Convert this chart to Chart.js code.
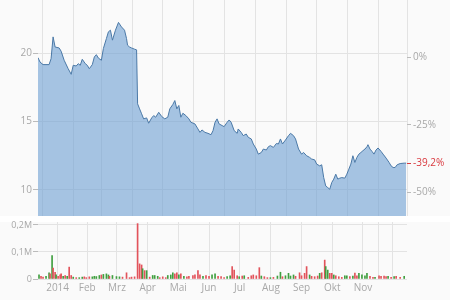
<!DOCTYPE html>
<html><head><meta charset="utf-8">
<script src="https://cdn.jsdelivr.net/npm/chart.js@4/dist/chart.umd.min.js"></script>
<style>
html,body{margin:0;padding:0;background:#fafafa;width:450px;height:300px;overflow:hidden}
#c1{position:absolute;left:0;top:0;width:450px;height:216px}
#c2{position:absolute;left:0;top:216px;width:450px;height:84px}
#sep{position:absolute;left:0;top:216px;width:450px;height:6px;background:#fff}
</style></head><body>
<div id="sep"></div>
<canvas id="c1" width="450" height="216"></canvas>
<canvas id="c2" width="450" height="84"></canvas>
<script>
// Day offsets from 2014-01-01 and closing prices
const priceDays = [-4,-2,1,7,9,11,13,17,19,22,26,29,31,34,36,38,40,43,45,47,50,52,54,56,59,61,64,66,68,70,73,76,79,82,84,85,87,89,92,94,95,97,99,101,104,106,109,111,113,116,119,122,125,127,130,132,134,136,138,140,143,146,148,152,155,157,159,162,165,168,170,172,174,176,179,181,184,186,188,191,194,195,198,200,203,205,208,210,213,215,218,220,223,225,227,230,233,235,237,239,242,245,247,250,252,255,258,260,263,266,268,271,273,276,278,280,282,284,286,288,290,292,294,296,298,301,303,305,307,309,311,313,315,317,319,321,323,324,326,328,330,332,334,337,339,342,345,347,349,351,353,356,360,362];
const prices = [19.68,19.36,19.17,19.17,19.6,21.2,20.46,20.39,20.15,19.49,18.87,18.46,19.12,19.07,19.24,19.12,19.56,19.24,19.12,18.87,19.17,19.73,19.9,19.65,19.49,20.35,21.08,21.57,21.69,20.96,21.69,22.26,21.93,21.69,21.08,20.59,20.46,20.39,20.3,20.25,16.3,15.93,15.57,15.2,15.27,14.88,15.27,15.44,15.32,15.68,15.37,15.2,15.32,15.93,16.25,16.54,15.93,16.18,15.32,15.61,15.44,15.2,14.95,14.83,14.46,14.21,14.39,14.21,14.14,14.04,14.34,14.95,15.2,14.83,14.71,14.63,14.95,15.12,14.95,14.34,14.14,14.46,14.21,13.97,14.09,13.85,13.73,13.36,12.99,12.62,12.74,12.99,12.92,13.16,13.24,13.11,13.4,13.36,13.73,13.36,13.65,13.97,14.14,13.97,13.73,12.99,12.62,12.74,12.5,12.38,12.26,12.2,11.89,11.76,11.84,10.9,10.29,10.17,10.05,10.54,10.79,11.15,10.79,10.86,10.9,10.86,11.15,11.52,11.89,12.5,12.01,12.38,12.62,12.74,12.87,12.99,13.16,13.31,12.99,12.82,12.62,12.92,13.07,12.82,12.62,12.33,12.01,11.76,11.64,11.64,11.84,11.93,11.96,11.96];

// Volume (thousands), day offsets and direction (u = up, d = down)
const volDays = [-3,-1,1,4,7,8,10,11,13,14,16,18,19,21,23,25,27,29,31,34,37,40,42,44,47,50,52,54,57,59,61,64,66,67,70,74,77,80,84,87,89,92,95,97,99,100,102,104,107,110,112,115,117,120,123,125,128,130,132,134,136,138,141,144,146,150,152,155,157,160,163,166,169,172,175,178,181,184,187,189,191,194,196,199,201,205,208,210,213,216,218,221,224,227,230,234,237,239,242,245,247,250,252,256,258,261,263,266,268,271,274,276,278,281,282,284,286,288,290,292,295,298,301,303,306,309,311,313,315,318,321,323,326,329,331,335,337,340,342,344,347,350,352,356,360];
const volumes = [15,10,7,10,23,19,87,40,25,15,10,15,19,10,13,10,44,13,7,5,5,7,8,5,8,8,10,9,13,15,17,19,15,10,13,9,8,7,23,5,7,8,205,56,52,38,31,31,7,13,13,10,5,8,5,13,15,23,19,23,15,19,10,8,10,13,15,31,15,10,13,10,15,19,10,9,5,8.5,12,46,33,12,8.5,11,12,6,12,15,12,42,11,8.5,5,5,6,11,25,8.5,12,21,11,15,10,23,12,21,46,15,10,8.5,11,21,23,70,46,33,21,21,15,12,8.5,6,12,12,8.5,11,22,12,21,15,12,21,10,6,6,12,10,11,8.5,10,6,8.5,10,6,10];
const volDir = ['u','d','d','u','u','d','u','d','d','u','d','d','d','u','d','u','d','d','u','d','u','u','d','d','d','u','u','u','u','d','u','u','u','d','u','u','u','d','d','d','d','d','d','d','d','u','d','u','d','u','u','u','d','d','d','u','u','u','d','d','u','d','u','d','d','d','d','d','d','u','d','d','u','u','d','d','d','u','u','d','d','d','u','d','u','d','d','d','d','d','u','d','d','u','d','u','u','d','u','u','u','u','d','d','d','d','d','u','d','d','d','u','d','d','u','u','d','d','u','d','d','d','u','u','d','u','d','d','u','u','u','u','d','d','u','d','d','d','d','u','d','u','d','d','u'];

const monthLabels = ['2014','Feb','Mrz','Apr','Mai','Jun','Jul','Aug','Sep','Okt','Nov'];
const priceTicks = [10,15,20];
const pctTicks = [0,-25,-50];
const volTicks = [0,100,200];
const volTickLabels = ['0','0,1M','0,2M'];

const DAY = 864e5, T0 = Date.UTC(2014,0,1);
const monthStarts = []; for (let m=0;m<12;m++) monthStarts.push((Date.UTC(2014,m,1)-T0)/DAY);
const monthMids = monthLabels.map((_,i)=> (monthStarts[i] + (Date.UTC(2014,i+1,1)-T0)/DAY)/2);

const XMIN=-4, XMAX=362.8;
const basePrice = prices[0], lastPrice = prices[prices.length-1];
const lastPct = (lastPrice/basePrice-1)*100;
const fmtPct = p => (Math.round(p*10)/10).toString().replace('.',',') + '%';
const gray='#a8a8a8', gridC='#e3e3e3', red='#d9393f';
const font={family:'"Open Sans", sans-serif', size:10};
const noPad = s => { s.paddingTop=0; s.paddingBottom=0; s.paddingLeft=0; s.paddingRight=0; };

new Chart(document.getElementById('c1'), {
  type:'line',
  data:{datasets:[{
    data: priceDays.map((d,i)=>({x:d,y:prices[i]})),
    borderColor:'#4a78a6', borderWidth:1, backgroundColor:'rgba(108,158,210,0.6)',
    fill:'start', pointRadius:0, tension:0
  }]},
  options:{
    responsive:false, animation:false, events:[],
    layout:{padding:0},
    plugins:{legend:{display:false}, tooltip:{enabled:false}},
    scales:{
      x:{type:'linear', min:XMIN, max:XMAX,
        afterBuildTicks:s=>{s.ticks=monthStarts.concat([XMAX]).map(v=>({value:v}));},
        afterFit:s=>{s.height=0; noPad(s);},
        ticks:{display:false}, grid:{color:gridC, drawTicks:false}, border:{display:false}},
      y:{position:'left', min:8.09, max:23.9,
        afterBuildTicks:s=>{s.ticks=priceTicks.map(v=>({value:v}));},
        afterFit:s=>{s.width=38; noPad(s);},
        ticks:{color:gray, font, padding:1, callback:v=>String(v)},
        grid:{color:gridC, tickLength:5, tickColor:'#bbb'}, border:{display:false}},
      y2:{position:'right', min:8.09, max:23.9,
        afterBuildTicks:s=>{s.ticks=pctTicks.map(p=>({value:basePrice*(1+p/100)})).concat([{value:lastPrice}]);},
        afterFit:s=>{s.width=43; noPad(s);},
        ticks:{font, padding:2,
          color:c=> (c.tick && c.tick.value===lastPrice) ? red : gray,
          callback:(v,i)=> i<pctTicks.length ? pctTicks[i]+'%' : fmtPct(lastPct)},
        grid:{drawOnChartArea:false, tickLength:4, tickColor:c=> (c.tick && c.tick.value===lastPrice) ? red : '#bbb'},
        border:{display:false}}
    }
  }
});

new Chart(document.getElementById('c2'), {
  type:'bar',
  data:{datasets:[{
    data: volDays.map((d,i)=>({x:d,y:volumes[i]})),
    backgroundColor: volDir.map(d=> d==='u' ? '#3f9f3f' : '#e2535b'),
    barThickness:1
  }]},
  options:{
    responsive:false, animation:false, events:[],
    layout:{padding:{top:6, right:43}},
    plugins:{legend:{display:false}, tooltip:{enabled:false}},
    scales:{
      x:{type:'linear', min:XMIN, max:XMAX, offset:false,
        afterBuildTicks:s=>{s.ticks=monthStarts.concat([XMAX]).map(v=>({value:v,k:'g'})).concat(monthMids.map((v,i)=>({value:v,k:'l',i})));},
        afterFit:s=>{s.height=21; noPad(s);},
        ticks:{color:gray, font, padding:3, autoSkip:false, maxRotation:0,
          callback:function(v,i,t){ return t[i].k==='l' ? monthLabels[t[i].i] : ''; }},
        grid:{color:c=> (c.tick && c.tick.k==='l') ? 'rgba(0,0,0,0)' : gridC, drawTicks:false},
        border:{display:false}},
      y:{position:'left', min:0, max:211,
        afterBuildTicks:s=>{s.ticks=volTicks.map(v=>({value:v}));},
        afterFit:s=>{s.width=38; noPad(s);},
        ticks:{color:gray, font:{family:font.family,size:9}, padding:1, callback:(v,i)=>volTickLabels[i]},
        grid:{color:gridC, tickLength:5, tickColor:'#bbb'}, border:{display:false}}
    }
  }
});
</script>
</body></html>
